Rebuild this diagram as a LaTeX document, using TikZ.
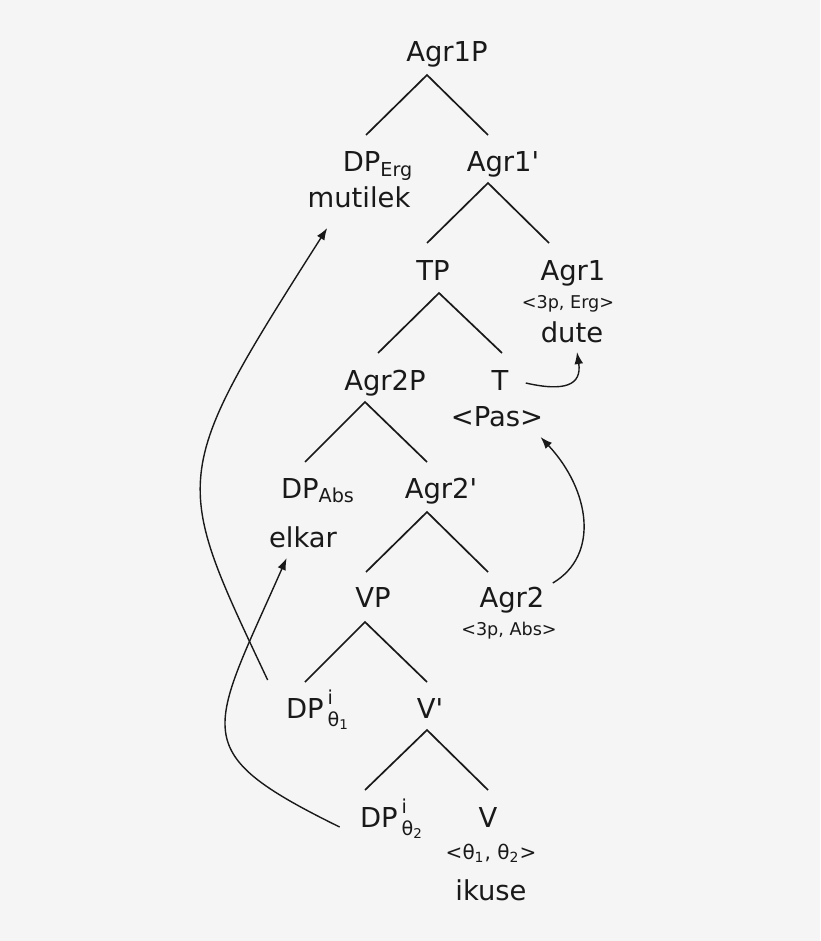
\documentclass[tikz,border=0pt]{standalone}
\usepackage{fontspec}
\setmainfont{DejaVu Sans}
\usepackage{amsmath}
\usetikzlibrary{arrows.meta}
\definecolor{hintergrund}{RGB}{245,245,245}
\definecolor{tinte}{RGB}{25,25,25}

\begin{document}
\begin{tikzpicture}[
x=0.5pt, y=-0.5pt,
knoten/.style={anchor=base, inner sep=3pt, text=tinte, font=\fontsize{13.7}{16}\selectfont},
merkmal/.style={knoten, font=\fontsize{8.8}{10}\selectfont},
ast/.style={draw=tinte, line width=0.85pt},
bewegung/.style={draw=tinte, line width=0.7pt, -{Latex[length=6pt,width=4.4pt]}},
]
\fill[hintergrund] (0,0) rectangle (820,941);

\node[knoten] (agrEinsP) at (447,62) {Agr1P};
\node[knoten] (dpErg) at (378,172) {DP\textsubscript{Erg}};
\node[knoten] (mutilek) at (359,207) {mutilek};
\node[knoten] (agrEinsBar) at (503,172) {Agr1\textquotesingle};
\node[knoten] (tp) at (433,280) {TP};
\node[knoten] (agrEins) at (573,280) {Agr1};
\node[merkmal] (ergMerk) at (568,308) {<3p, Erg>};
\node[knoten] (dute) at (572,342) {dute};
\node[knoten] (agrZweiP) at (385,390) {Agr2P};
\node[knoten] (t) at (500,390) {T};
\node[knoten] (pas) at (497,426) {<Pas>};
\node[knoten] (dpAbs) at (318,498) {DP\textsubscript{Abs}};
\node[knoten] (agrZweiBar) at (441,498) {Agr2\textquotesingle};
\node[knoten] (elkar) at (303,547) {elkar};
\node[knoten] (vp) at (373,607) {VP};
\node[knoten] (agrZwei) at (512,607) {Agr2};
\node[merkmal] (absMerk) at (509,635) {<3p, Abs>};
\node[knoten] (dpEins) at (318,718) {DP\kern2pt$^{\text{\raisebox{1.5pt}{i}}}_{\text{θ\textsubscript{1}}}$};
\node[knoten] (vBar) at (430,718) {V\textquotesingle};
\node[knoten] (dpZwei) at (392,827) {DP\kern2pt$^{\text{\raisebox{1.5pt}{i}}}_{\text{θ\textsubscript{2}}}$};
\node[knoten] (v) at (488,827) {V};
\node[merkmal, font=\fontsize{10}{12}\selectfont] (thetaMerk) at (491,859) {<θ\textsubscript{1}, θ\textsubscript{2}>};
\node[knoten] (ikuse) at (491,900) {ikuse};

% Verzweigungen
\coordinate (k1) at ([shift={(-20,13)}]agrEinsP.base);
\draw[ast] (k1) ++(-61,60) -- (k1) -- ++(61,60);
\coordinate (k2) at ([shift={(-15,11)}]agrEinsBar.base);
\draw[ast] (k2) ++(-61,60) -- (k2) -- ++(61,60);
\coordinate (k3) at ([shift={(6,13)}]tp.base);
\draw[ast] (k3) ++(-61,60) -- (k3) -- ++(63,60);
\coordinate (k4) at ([shift={(-20,12)}]agrZweiP.base);
\draw[ast] (k4) ++(-60,60) -- (k4) -- ++(62,60);
\coordinate (k5) at ([shift={(-14,14)}]agrZweiBar.base);
\draw[ast] (k5) ++(-61,60) -- (k5) -- ++(61,60);
\coordinate (k6) at ([shift={(-8,15)}]vp.base);
\draw[ast] (k6) ++(-60,60) -- (k6) -- ++(62,60);
\coordinate (k7) at ([shift={(-3,12)}]vBar.base);
\draw[ast] (k7) ++(-62,60) -- (k7) -- ++(61,60);

% Bewegungen
\draw[bewegung] ([shift={(-12,-38)}]dpEins.base west) .. controls (172,477) and (168,478) .. ([shift={(26,21)}]mutilek.base west);
\draw[bewegung] ([shift={(-14,0)}]dpZwei.base west) .. controls (185,751) and (209,734) .. ([shift={(24,11)}]elkar.base west);
\draw[bewegung] ([shift={(11,-7)}]t.base east) .. controls (565,392) and (582,385) .. ([shift={(5,10)}]dute.base);
\draw[bewegung] ([shift={(2,-24)}]agrZwei.base east) .. controls (600,555) and (590,490) .. ([shift={(-9,11)}]pas.base east);

\end{tikzpicture}
\end{document}
